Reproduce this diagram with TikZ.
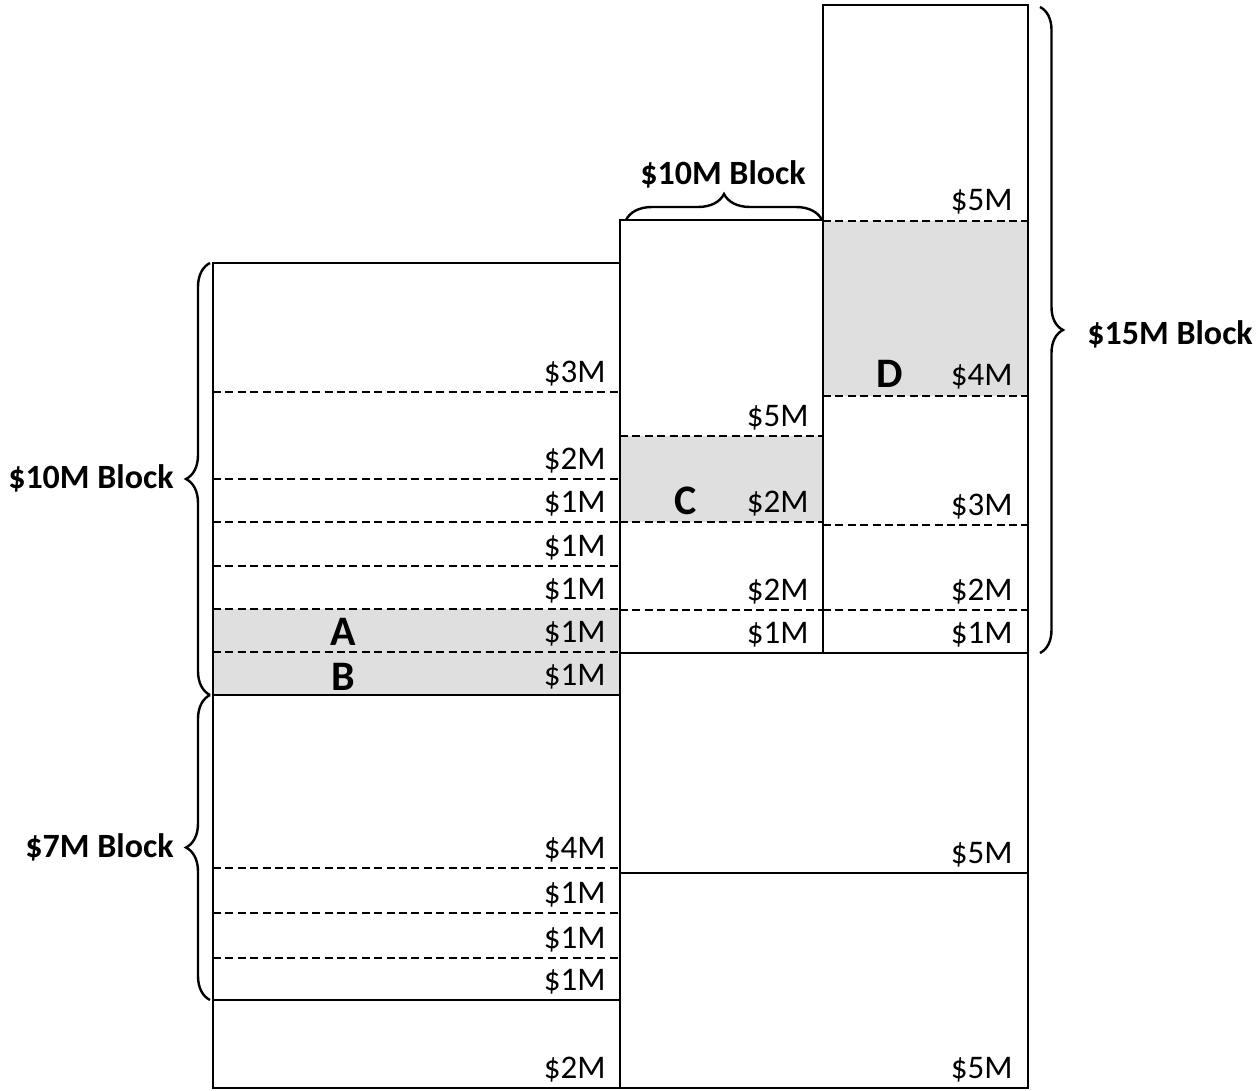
\documentclass[tikz,border=0pt]{standalone}
\usepackage{fontspec}
\setmainfont{Carlito}
\usetikzlibrary{decorations.pathreplacing}

\begin{document}
\begin{tikzpicture}[x=0.5pt,y=-0.5pt,
  every node/.style={font=\fontsize{16.5}{19}\selectfont,inner sep=0pt},
  val/.style={anchor=base east},
  tag/.style={font=\fontsize{21}{24}\selectfont\bfseries},
  blk/.style={font=\fontsize{17}{20}\selectfont\bfseries},
  cut/.style={dash pattern=on 4pt off 2.2pt,line width=0.9pt},
  wall/.style={line width=1.2pt},
  curly/.style={decorate,decoration={brace,amplitude=#1},line width=1.2pt},
  curly/.default=12pt,
  grain/.style={fill=gray!25}]
  \useasboundingbox (0,0) rectangle (1259,1091);
  % shaded layers
  \fill[grain] (213,609) rectangle (620,695);
  \fill[grain] (620,436) rectangle (823,522);
  \fill[grain] (823,221) rectangle (1028,396);
  % layer boundaries
  \foreach \y in {392,479,522,566,609,652,868,913,958}
    \draw[cut] (213,\y) -- (620,\y);
  \foreach \y in {436,522,610}
    \draw[cut] (620,\y) -- (823,\y);
  \foreach \y in {221,396,525,610}
    \draw[cut] (823,\y) -- (1028,\y);
  % columns
  \draw[wall] (213,263) rectangle (620,1088);
  \draw[wall] (213,695) -- (620,695);
  \draw[wall] (213,1000) -- (620,1000);
  \draw[wall] (620,220) rectangle (823,653);
  \draw[wall] (823,5) rectangle (1028,653);
  \draw[wall] (620,653) rectangle (1028,1088);
  \draw[wall] (620,873) -- (1028,873);
  % amounts
  \foreach \y/\v [count=\i] in {392/3,479/2,522/1,566/1,609/1,652/1,695/1,868/4,913/1,958/1,1000/1,1088/2}
    \node[val] (left\i) at (606,\y-10) {\$\v M};
  \foreach \y/\v [count=\i] in {436/5,522/2,610/2,653/1}
    \node[val] (mid\i) at (809,\y-10) {\$\v M};
  \foreach \y/\v [count=\i] in {221/5,396/4,525/3,610/2,653/1,873/5,1088/5}
    \node[val] (right\i) at (1013,\y-10) {\$\v M};
  % marked layers
  \node[tag] (a) at (343,632) {A};
  \node[tag] (b) at (343,677) {B};
  \node[tag] (c) at (686,501) {C};
  \node[tag] (d) at (890,374) {D};
  % blocks
  \draw[curly] (210,695) -- (210,263);
  \draw[curly] (210,1000) -- (210,695);
  \draw[curly=13pt] (626,220) -- (822,220);
  \draw[curly=11.5pt] (1040,7) -- (1040,653);
  \node[blk,anchor=east] (blk10) at (174,478) {\$10M Block};
  \node[blk,anchor=east] (blk7) at (174,847) {\$7M Block};
  \node[blk,anchor=base] (blk10top) at (723,185) {\$10M Block};
  \node[blk,anchor=west] (blk15) at (1087,334) {\$15M Block};
\end{tikzpicture}
\end{document}
